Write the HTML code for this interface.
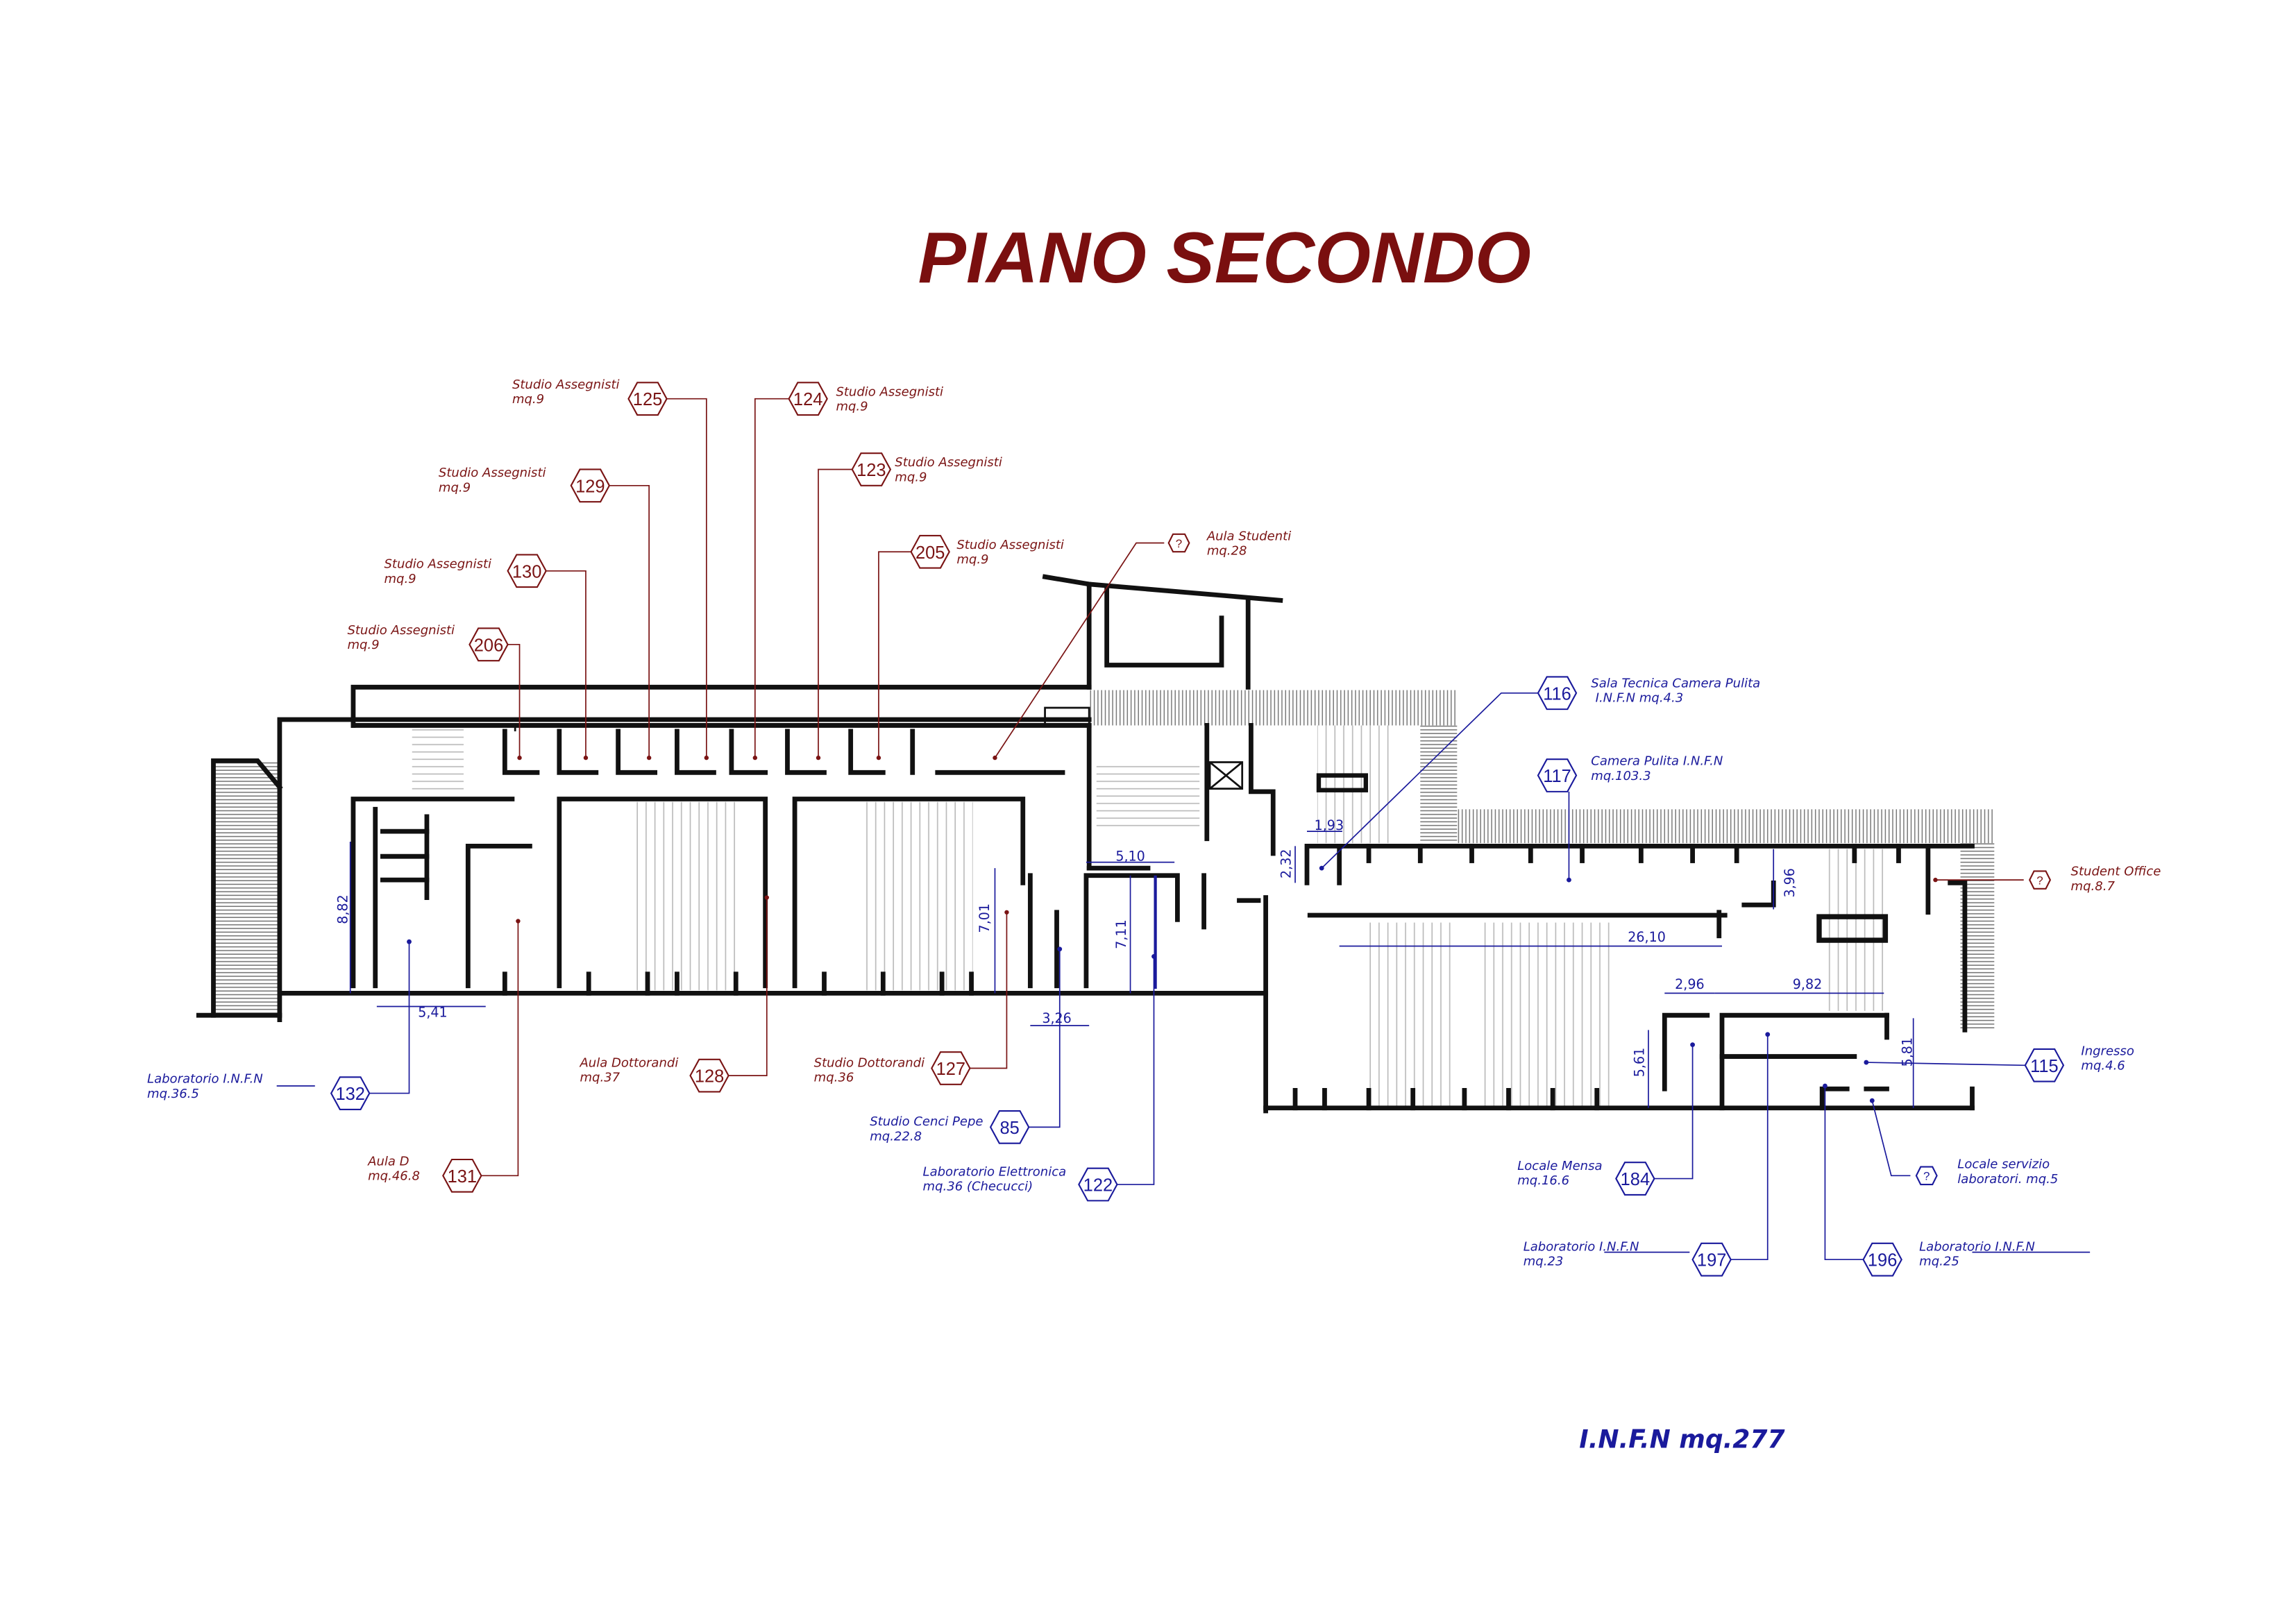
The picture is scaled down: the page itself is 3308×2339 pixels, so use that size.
<!DOCTYPE html>
<html><head><meta charset="utf-8"><style>
html,body{margin:0;padding:0;background:#fff;}
svg{display:block;}
.w{stroke:#111;fill:none;stroke-width:3.2;stroke-linecap:square}
.t{stroke:#111;fill:none;stroke-width:1.3}
.r{fill:#7a1414;font-family:"DejaVu Sans","Liberation Sans",sans-serif;font-style:italic;font-size:8.5px}
.b{fill:#1a1a9c;font-family:"DejaVu Sans","Liberation Sans",sans-serif;font-style:italic;font-size:8.5px}
.lr{stroke:#7a1414;stroke-width:0.8;fill:none}
.lb{stroke:#1a1a9c;stroke-width:0.8;fill:none}
.hr{fill:#fff;stroke:#7a1414;stroke-width:1}
.hb{fill:#fff;stroke:#1a1a9c;stroke-width:1}
.nr{fill:#7a1414;font-family:"Liberation Sans",sans-serif;font-size:12px;text-anchor:middle}
.nb{fill:#1a1a9c;font-family:"Liberation Sans",sans-serif;font-size:12px;text-anchor:middle}
.d{fill:#1a1a9c;font-family:"DejaVu Sans","Liberation Sans",sans-serif;font-size:9px}
.dl{stroke:#1a1a9c;stroke-width:0.8}
</style></head><body>
<svg width="3308" height="2339" viewBox="0 0 1560 1103" xmlns="http://www.w3.org/2000/svg">
<defs>
<pattern id="h" width="2.5" height="10" patternUnits="userSpaceOnUse"><line x1="1" y1="0" x2="1" y2="10" stroke="#777" stroke-width="0.7"/></pattern>
<pattern id="hh" width="10" height="2.5" patternUnits="userSpaceOnUse"><line x1="0" y1="1" x2="10" y2="1" stroke="#777" stroke-width="0.7"/></pattern>
<pattern id="st" width="6" height="10" patternUnits="userSpaceOnUse"><line x1="1" y1="0" x2="1" y2="10" stroke="#bbb" stroke-width="0.8"/></pattern>
<pattern id="sth" width="10" height="5" patternUnits="userSpaceOnUse"><line x1="0" y1="1" x2="10" y2="1" stroke="#bbb" stroke-width="0.8"/></pattern>
</defs>
<rect width="1560" height="1103" fill="#fff"/>
<text x="832" y="192" text-anchor="middle" fill="#7a0f0f" font-family="Liberation Sans,sans-serif" font-weight="bold" font-style="italic" font-size="49">PIANO SECONDO</text>

<!-- hatched bands -->
<rect x="740" y="469" width="250" height="24" fill="url(#h)"/>
<rect x="965" y="493" width="25" height="80" fill="url(#hh)"/>
<rect x="990" y="550" width="365" height="23" fill="url(#h)"/>
<rect x="1332" y="573" width="23" height="126" fill="url(#hh)"/>
<rect x="145" y="517" width="45" height="173" fill="url(#hh)"/>
<!-- stairs -->
<rect x="428" y="545" width="76" height="128" fill="url(#st)"/>
<rect x="585" y="545" width="76" height="128" fill="url(#st)"/>
<rect x="928" y="627" width="60" height="125" fill="url(#st)"/>
<rect x="1008" y="627" width="90" height="125" fill="url(#st)"/>
<rect x="1238" y="577" width="42" height="110" fill="url(#st)"/>
<rect x="895" y="493" width="50" height="80" fill="url(#st)"/>
<rect x="745" y="520" width="70" height="45" fill="url(#sth)"/>
<rect x="280" y="495" width="35" height="45" fill="url(#sth)"/>

<!-- walls -->
<g class="w">
<polyline points="240,493 240,467 740,467"/>
<polyline points="190,693 190,489 740,489"/>
<line x1="240" y1="493" x2="740" y2="493"/>
<line x1="135" y1="690" x2="190" y2="690"/>
<line x1="190" y1="675" x2="860" y2="675"/>
<polyline points="145,690 145,517 175,517 190,535"/>
<!-- small offices -->
<polyline points="343,497 343,525 365,525"/><polyline points="380,497 380,525 405,525"/><polyline points="420,497 420,525 445,525"/><polyline points="460,497 460,525 485,525"/><polyline points="497,497 497,525 520,525"/><polyline points="535,497 535,525 560,525"/><polyline points="578,497 578,525 600,525"/><polyline points="620,497 620,525"/>
<line x1="637" y1="525" x2="722" y2="525"/>
<!-- big rooms -->
<polyline points="380,670 380,543 520,543 520,670"/>
<polyline points="540,670 540,543 695,543 695,600"/>
<polyline points="240,670 240,543 348,543"/>
<polyline points="255,670 255,550"/><polyline points="318,670 318,575 360,575"/>
<line x1="260" y1="565" x2="290" y2="565"/><line x1="260" y1="582" x2="290" y2="582"/><line x1="260" y1="598" x2="290" y2="598"/>
<line x1="290" y1="555" x2="290" y2="610"/>
<line x1="700" y1="595" x2="700" y2="670"/><line x1="718" y1="620" x2="718" y2="670"/>
<polyline points="738,670 738,595 800,595 800,625"/>
<line x1="818" y1="595" x2="818" y2="630"/>
<!-- tower -->
<polyline points="710,392 740,397 740,467"/>
<line x1="740" y1="397" x2="870" y2="408"/>
<polyline points="752,400 752,452 830,452 830,420"/>
<line x1="848" y1="408" x2="848" y2="467"/>
<!-- middle block -->
<line x1="740" y1="493" x2="740" y2="590"/>
<polyline points="740,590 780,590"/>
<line x1="820" y1="493" x2="820" y2="570"/>
<polyline points="850,493 850,538 865,538 865,580"/>
<line x1="860" y1="610" x2="860" y2="755"/>
<line x1="842" y1="612" x2="855" y2="612"/>
<!-- right -->
<polyline points="888,600 888,575 1340,575"/>
<line x1="890" y1="622" x2="1172" y2="622"/>
<line x1="860" y1="753" x2="1340" y2="753"/>
<polyline points="1340,753 1340,740"/>
<polyline points="1131,740 1131,690 1160,690"/><polyline points="1170,753 1170,690 1282,690"/>
<line x1="1170" y1="718" x2="1260" y2="718"/>
<polyline points="1238,753 1238,740 1255,740"/><line x1="1268" y1="740" x2="1282" y2="740"/>
<line x1="1282" y1="690" x2="1282" y2="705"/>
<polyline points="1310,575 1310,620"/>
<polyline points="1325,600 1335,600 1335,700"/>
<line x1="910" y1="575" x2="910" y2="600"/>
<polyline points="1185,615 1205,615 1205,600"/>
<line x1="1168" y1="620" x2="1168" y2="636"/>
</g>
<rect x="1236" y="623" width="45" height="16" fill="none" stroke="#111" stroke-width="3.5"/>
<rect x="896" y="527" width="32" height="10" fill="none" stroke="#111" stroke-width="3"/>
<rect x="710" y="481" width="30" height="12" class="t"/>
<rect x="822" y="518" width="22" height="18" class="t"/><line x1="822" y1="518" x2="844" y2="536" class="t"/><line x1="844" y1="518" x2="822" y2="536" class="t"/>
<line x1="785" y1="595" x2="785" y2="672" stroke="#1a1a9c" stroke-width="2"/>
<g class="t">
<line x1="350" y1="497" x2="350" y2="493"/>
</g>
<!-- wall stubs along bottom -->
<g class="w">
<line x1="343" y1="675" x2="343" y2="662"/><line x1="400" y1="675" x2="400" y2="662"/><line x1="440" y1="675" x2="440" y2="662"/><line x1="460" y1="675" x2="460" y2="662"/><line x1="500" y1="675" x2="500" y2="662"/>
<line x1="560" y1="675" x2="560" y2="662"/><line x1="600" y1="675" x2="600" y2="662"/><line x1="640" y1="675" x2="640" y2="662"/><line x1="660" y1="675" x2="660" y2="662"/>
<line x1="880" y1="753" x2="880" y2="741"/><line x1="900" y1="753" x2="900" y2="741"/><line x1="930" y1="753" x2="930" y2="741"/><line x1="960" y1="753" x2="960" y2="741"/><line x1="995" y1="753" x2="995" y2="741"/><line x1="1025" y1="753" x2="1025" y2="741"/><line x1="1055" y1="753" x2="1055" y2="741"/><line x1="1085" y1="753" x2="1085" y2="741"/>
<line x1="930" y1="575" x2="930" y2="585"/><line x1="965" y1="575" x2="965" y2="585"/><line x1="1000" y1="575" x2="1000" y2="585"/><line x1="1040" y1="575" x2="1040" y2="585"/><line x1="1075" y1="575" x2="1075" y2="585"/><line x1="1115" y1="575" x2="1115" y2="585"/><line x1="1150" y1="575" x2="1150" y2="585"/><line x1="1180" y1="575" x2="1180" y2="585"/><line x1="1260" y1="575" x2="1260" y2="585"/><line x1="1290" y1="575" x2="1290" y2="585"/>
</g>

<!-- leaders red -->
<g class="lr">
<polyline points="453,271 480,271 480,515"/><polyline points="536,271 513,271 513,515"/>
<polyline points="414,330 441,330 441,515"/><polyline points="579,319 556,319 556,515"/>
<polyline points="371,388 398,388 398,515"/><polyline points="619,375 597,375 597,515"/>
<polyline points="345,438 353,438 353,515"/><polyline points="791,369 772,369 676,515"/>
<polyline points="327,799 352,799 352,626"/><polyline points="495,731 521,731 521,610"/>
<polyline points="659,726 684,726 684,620"/><polyline points="1375,598 1315,598"/>
</g>
<g fill="#7a1414"><circle cx="480" cy="515" r="1.5"/><circle cx="513" cy="515" r="1.5"/><circle cx="441" cy="515" r="1.5"/><circle cx="556" cy="515" r="1.5"/><circle cx="398" cy="515" r="1.5"/><circle cx="597" cy="515" r="1.5"/><circle cx="353" cy="515" r="1.5"/><circle cx="676" cy="515" r="1.5"/><circle cx="352" cy="626" r="1.5"/><circle cx="521" cy="610" r="1.5"/><circle cx="684" cy="620" r="1.5"/><circle cx="1315" cy="598" r="1.5"/></g>
<!-- leaders blue -->
<g class="lb">
<polyline points="1045,471 1020,471 898,590"/><line x1="1066" y1="538" x2="1066" y2="598"/>
<polyline points="1376,724 1268,722"/><polyline points="1124,801 1150,801 1150,710"/>
<polyline points="1298,799 1285,799 1272,748"/><polyline points="1176,856 1201,856 1201,703"/>
<polyline points="1266,856 1240,856 1240,738"/><polyline points="251,743 278,743 278,640"/>
<polyline points="699,766 720,766 720,645"/><polyline points="759,805 784,805 784,650"/>
<line x1="188" y1="738" x2="214" y2="738"/><line x1="1340" y1="851" x2="1420" y2="851"/><line x1="1090" y1="851" x2="1148" y2="851"/>
</g>
<g fill="#1a1a9c"><circle cx="898" cy="590" r="1.6"/><circle cx="1066" cy="598" r="1.6"/><circle cx="1268" cy="722" r="1.6"/><circle cx="1150" cy="710" r="1.6"/><circle cx="1272" cy="748" r="1.6"/><circle cx="1201" cy="703" r="1.6"/><circle cx="1240" cy="738" r="1.6"/><circle cx="278" cy="640" r="1.6"/><circle cx="720" cy="645" r="1.6"/><circle cx="784" cy="650" r="1.6"/></g>

<!-- dimensions -->
<g class="dl">
<line x1="238" y1="572" x2="238" y2="675"/><line x1="256" y1="684" x2="330" y2="684"/>
<line x1="676" y1="590" x2="676" y2="675"/><line x1="768" y1="595" x2="768" y2="675"/>
<line x1="738" y1="586" x2="798" y2="586"/><line x1="700" y1="697" x2="740" y2="697"/>
<line x1="888" y1="565" x2="912" y2="565"/><line x1="880" y1="575" x2="880" y2="600"/>
<line x1="1205" y1="577" x2="1205" y2="618"/><line x1="910" y1="643" x2="1170" y2="643"/>
<line x1="1131" y1="675" x2="1165" y2="675"/><line x1="1165" y1="675" x2="1280" y2="675"/>
<line x1="1120" y1="700" x2="1120" y2="753"/><line x1="1300" y1="692" x2="1300" y2="753"/>
</g>
<text class="d" transform="translate(236,628) rotate(-90)">8,82</text>
<text class="d" x="284" y="691">5,41</text>
<text class="d" transform="translate(672,634) rotate(-90)">7,01</text>
<text class="d" transform="translate(765,645) rotate(-90)">7,11</text>
<text class="d" x="758" y="585">5,10</text>
<text class="d" x="708" y="695">3,26</text>
<text class="d" x="893" y="564">1,93</text>
<text class="d" transform="translate(877,597) rotate(-90)">2,32</text>
<text class="d" transform="translate(1219,610) rotate(-90)">3,96</text>
<text class="d" x="1106" y="640">26,10</text>
<text class="d" x="1138" y="672">2,96</text>
<text class="d" x="1218" y="672">9,82</text>
<text class="d" transform="translate(1117,732) rotate(-90)">5,61</text>
<text class="d" transform="translate(1299,725) rotate(-90)">5,81</text>

<!-- hexagons -->
<g>
<polygon class="hr" points="427,271 433,260 447,260 453,271 447,282 433,282"/><text class="nr" x="440" y="275.5">125</text>
<polygon class="hr" points="536,271 542,260 556,260 562,271 556,282 542,282"/><text class="nr" x="549" y="275.5">124</text>
<polygon class="hr" points="388,330 394,319 408,319 414,330 408,341 394,341"/><text class="nr" x="401" y="334.5">129</text>
<polygon class="hr" points="579,319 585,308 599,308 605,319 599,330 585,330"/><text class="nr" x="592" y="323.5">123</text>
<polygon class="hr" points="345,388 351,377 365,377 371,388 365,399 351,399"/><text class="nr" x="358" y="392.5">130</text>
<polygon class="hr" points="619,375 625,364 639,364 645,375 639,386 625,386"/><text class="nr" x="632" y="379.5">205</text>
<polygon class="hr" points="319,438 325,427 339,427 345,438 339,449 325,449"/><text class="nr" x="332" y="442.5">206</text>
<polygon class="hr" points="794,369 797,363 805,363 808,369 805,375 797,375"/><text class="nr" x="801" y="372" style="font-size:8px">?</text>
<polygon class="hr" points="1379,598 1382,592 1390,592 1393,598 1390,604 1382,604"/><text class="nr" x="1386" y="601" style="font-size:8px">?</text>
<polygon class="hr" points="301,799 307,788 321,788 327,799 321,810 307,810"/><text class="nr" x="314" y="803.5">131</text>
<polygon class="hr" points="469,731 475,720 489,720 495,731 489,742 475,742"/><text class="nr" x="482" y="735.5">128</text>
<polygon class="hr" points="633,726 639,715 653,715 659,726 653,737 639,737"/><text class="nr" x="646" y="730.5">127</text>

<polygon class="hb" points="1045,471 1051,460 1065,460 1071,471 1065,482 1051,482"/><text class="nb" x="1058" y="475.5">116</text>
<polygon class="hb" points="1045,527 1051,516 1065,516 1071,527 1065,538 1051,538"/><text class="nb" x="1058" y="531.5">117</text>
<polygon class="hb" points="1376,724 1382,713 1396,713 1402,724 1396,735 1382,735"/><text class="nb" x="1389" y="728.5">115</text>
<polygon class="hb" points="1098,801 1104,790 1118,790 1124,801 1118,812 1104,812"/><text class="nb" x="1111" y="805.5">184</text>
<polygon class="hb" points="1302,799 1305,793 1313,793 1316,799 1313,805 1305,805"/><text class="nb" x="1309" y="802" style="font-size:8px">?</text>
<polygon class="hb" points="1150,856 1156,845 1170,845 1176,856 1170,867 1156,867"/><text class="nb" x="1163" y="860.5">197</text>
<polygon class="hb" points="1266,856 1272,845 1286,845 1292,856 1286,867 1272,867"/><text class="nb" x="1279" y="860.5">196</text>
<polygon class="hb" points="225,743 231,732 245,732 251,743 245,754 231,754"/><text class="nb" x="238" y="747.5">132</text>
<polygon class="hb" points="673,766 679,755 693,755 699,766 693,777 679,777"/><text class="nb" x="686" y="770.5">85</text>
<polygon class="hb" points="733,805 739,794 753,794 759,805 753,816 739,816"/><text class="nb" x="746" y="809.5">122</text>
</g>

<!-- labels -->
<text class="r" x="348" y="264">Studio Assegnisti</text><text class="r" x="348" y="274">mq.9</text>
<text class="r" x="568" y="269">Studio Assegnisti</text><text class="r" x="568" y="279">mq.9</text>
<text class="r" x="298" y="324">Studio Assegnisti</text><text class="r" x="298" y="334">mq.9</text>
<text class="r" x="608" y="317">Studio Assegnisti</text><text class="r" x="608" y="327">mq.9</text>
<text class="r" x="261" y="386">Studio Assegnisti</text><text class="r" x="261" y="396">mq.9</text>
<text class="r" x="650" y="373">Studio Assegnisti</text><text class="r" x="650" y="383">mq.9</text>
<text class="r" x="236" y="431">Studio Assegnisti</text><text class="r" x="236" y="441">mq.9</text>
<text class="r" x="820" y="367">Aula Studenti</text><text class="r" x="820" y="377">mq.28</text>
<text class="r" x="1407" y="595">Student Office</text><text class="r" x="1407" y="605">mq.8.7</text>
<text class="r" x="250" y="792">Aula D</text><text class="r" x="250" y="802">mq.46.8</text>
<text class="r" x="394" y="725">Aula Dottorandi</text><text class="r" x="394" y="735">mq.37</text>
<text class="r" x="553" y="725">Studio Dottorandi</text><text class="r" x="553" y="735">mq.36</text>

<text class="b" x="1081" y="467">Sala Tecnica Camera Pulita</text><text class="b" x="1084" y="477">I.N.F.N mq.4.3</text>
<text class="b" x="1081" y="520">Camera Pulita I.N.F.N</text><text class="b" x="1081" y="530">mq.103.3</text>
<text class="b" x="1414" y="717">Ingresso</text><text class="b" x="1414" y="727">mq.4.6</text>
<text class="b" x="1031" y="795">Locale Mensa</text><text class="b" x="1031" y="805">mq.16.6</text>
<text class="b" x="1330" y="794">Locale servizio</text><text class="b" x="1330" y="804">laboratori. mq.5</text>
<text class="b" x="1035" y="850">Laboratorio I.N.F.N</text><text class="b" x="1035" y="860">mq.23</text>
<text class="b" x="1304" y="850">Laboratorio I.N.F.N</text><text class="b" x="1304" y="860">mq.25</text>
<text class="b" x="100" y="736">Laboratorio  I.N.F.N</text><text class="b" x="100" y="746">mq.36.5</text>
<text class="b" x="591" y="765">Studio Cenci Pepe</text><text class="b" x="591" y="775">mq.22.8</text>
<text class="b" x="627" y="799">Laboratorio Elettronica</text><text class="b" x="627" y="809">mq.36 (Checucci)</text>

<text x="1073" y="984" fill="#1a1a9c" font-family="DejaVu Sans,Liberation Sans,sans-serif" font-weight="bold" font-style="italic" font-size="17">I.N.F.N mq.277</text>
</svg>
</body></html>
